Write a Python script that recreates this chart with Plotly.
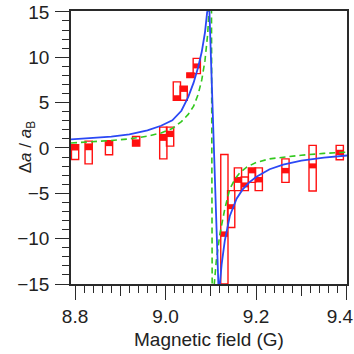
import plotly.graph_objects as go

# curve samples (field in G, delta a / a_B)
blue_field = [8.791, 8.84, 8.88, 8.92, 8.96, 8.99, 9.015, 9.035, 9.05, 9.062, 9.072,
              9.08, 9.087, 9.092, 9.0945, 9.097, 9.116, 9.118, 9.120, 9.124, 9.131,
              9.142, 9.157, 9.17, 9.185, 9.2, 9.23, 9.26, 9.3, 9.35, 9.401]
blue_da = [0.94, 1.08, 1.25, 1.5, 1.95, 2.45, 3.05, 4.1, 5.6, 7.2, 8.9,
           10.6, 12.7, 15.0, 17.0, 15.0, -15.0, -17.0, -15.0, -12.8, -10.2,
           -7.5, -5.6, -4.6, -3.8, -3.2, -2.35, -1.85, -1.4, -1.07, -0.83]

green_field = [8.791, 8.84, 8.88, 8.92, 8.96, 8.99, 9.015, 9.035, 9.05, 9.062, 9.072,
               9.08, 9.087, 9.093, 9.097, 9.0995, 9.1015, 9.103, 9.105, 9.1077, 9.112,
               9.12, 9.131, 9.142, 9.155, 9.165, 9.18, 9.2, 9.23, 9.26, 9.3, 9.35, 9.401]
green_da = [0.55, 0.68, 0.82, 1.0, 1.3, 1.65, 2.15, 2.9, 3.7, 4.6, 5.9,
            7.5, 9.6, 12.5, 15.0, 18.0, 15.0, -15.0, -18.0, -15.0, -12.5,
            -9.5, -6.7, -4.5, -3.3, -2.7, -2.1, -1.6, -1.2, -1.0, -0.8, -0.6, -0.46]

# measured points: field, filled box (stat) and open box (sys) extents
pt_field = [8.800, 8.830, 8.875, 8.935, 8.995, 9.010, 9.025, 9.040, 9.055, 9.069,
            9.130, 9.145, 9.160, 9.175, 9.191, 9.206, 9.265, 9.325, 9.385]
stat_lo = [-0.28, -0.25, 0.2, 0.2, 0.78, 1.2, 5.26, 6.18, 7.77, 8.77,
           -9.8, -6.75, -3.85, -4.35, -2.8, -3.8, -2.8, -2.25, -0.78]
stat_hi = [0.35, 0.5, 0.8, 0.95, 1.55, 1.9, 5.81, 6.81, 8.28, 9.32,
           -9.2, -6.2, -3.2, -3.8, -2.2, -3.2, -2.2, -1.7, -0.2]
sys_lo = [-1.27, -1.75, -0.75, 0.2, -1.2, 0.2, 5.26, 5.26, 7.77, 8.19,
          -15.0, -8.77, -4.7, -4.7, -3.79, -4.7, -3.79, -4.75, -1.3]
sys_hi = [0.35, 0.75, 0.8, 1.27, 2.3, 2.3, 7.29, 6.81, 8.28, 9.88,
          -0.72, -4.7, -2.2, -3.2, -2.2, -2.2, -1.2, 0.28, 0.28]
box_w = 0.016

x_ticks = [8.8, 9.0, 9.2, 9.4]
# last label pulled in a little so it stays on the page
x_ticktext = ["8.8", "9.0", "9.2", "9.4\u2002\u2009"]

RED = "#ff1010"
AX = "#2a2a2a"
FONT = "Liberation Sans, Arial, sans-serif"

fig = go.Figure()

fig.add_trace(go.Bar(
    x=pt_field, base=stat_lo, y=[h - l for h, l in zip(stat_hi, stat_lo)],
    width=box_w, marker=dict(color=RED, line=dict(width=0)),
))
fig.add_trace(go.Bar(
    x=pt_field, base=sys_lo, y=[h - l for h, l in zip(sys_hi, sys_lo)],
    width=box_w, marker=dict(color="rgba(0,0,0,0)", line=dict(color=RED, width=1.4)),
))
fig.add_trace(go.Scatter(x=green_field, y=green_da, mode="lines",
                         line=dict(color="#33c81e", width=1.6, dash="6px,4px")))
fig.add_trace(go.Scatter(x=blue_field, y=blue_da, mode="lines",
                         line=dict(color="#2b48f5", width=1.8)))
# carrier for the mid-length ticks at 0.1 G
fig.add_trace(go.Scatter(x=[8.9, 9.3], y=[None, None], xaxis="x2",
                         mode="lines", hoverinfo="skip"))

fig.update_layout(
    width=354, height=354,
    margin=dict(l=71, r=7, t=11, b=70, autoexpand=False),
    paper_bgcolor="white", plot_bgcolor="white",
    showlegend=False, barmode="overlay",
    font=dict(family=FONT, size=19, color="#222"),
    xaxis=dict(
        range=[8.791, 9.401], tickmode="array", tickvals=x_ticks, ticktext=x_ticktext,
        ticks="outside", ticklen=14, tickwidth=1.3, tickcolor=AX,
        ticklabeloverflow="allow", automargin=False, ticklabelstandoff=0,
        minor=dict(tickmode="linear", tick0=8.8, dtick=0.02, ticks="outside", ticklen=7,
                   tickwidth=1.1, tickcolor=AX, showgrid=False),
        showline=True, linecolor=AX, linewidth=1.5, mirror=True,
        showgrid=False, zeroline=False,
    ),
    xaxis2=dict(
        overlaying="x", anchor="y", side="bottom", range=[8.791, 9.401],
        tickmode="array", tickvals=[8.9, 9.1, 9.3], showticklabels=False,
        ticks="outside", ticklen=11, tickwidth=1.2, tickcolor=AX,
        showline=False, showgrid=False, zeroline=False, automargin=False,
    ),
    yaxis=dict(
        range=[-15, 15.1], tickmode="linear", tick0=0, dtick=5,
        ticks="outside", ticklen=14, tickwidth=1.3, tickcolor=AX,
        ticklabeloverflow="allow", automargin=False, ticklabelstandoff=2,
        minor=dict(tick0=0, dtick=1, ticks="outside", ticklen=7,
                   tickwidth=1.1, tickcolor=AX, showgrid=False),
        showline=True, linecolor=AX, linewidth=1.5, mirror=True,
        showgrid=False, zeroline=False,
    ),
    annotations=[
        dict(text="Magnetic field (G)", xref="paper", yref="paper",
             x=0.5, y=-0.205, xanchor="center", yanchor="middle",
             showarrow=False, font=dict(size=19)),
        dict(text="Δ<i>a</i> / <i>a</i><sub>B</sub>", xref="paper", yref="paper",
             x=-0.16, y=0.5, xanchor="center", yanchor="middle", textangle=-90,
             showarrow=False, font=dict(size=17)),
    ],
)

# drop the default 8px page margin so the 354 px figure fills the window
fig.write_html("out.html", config={"displayModeBar": False},
               post_script="document.body.style.margin='0px';")
